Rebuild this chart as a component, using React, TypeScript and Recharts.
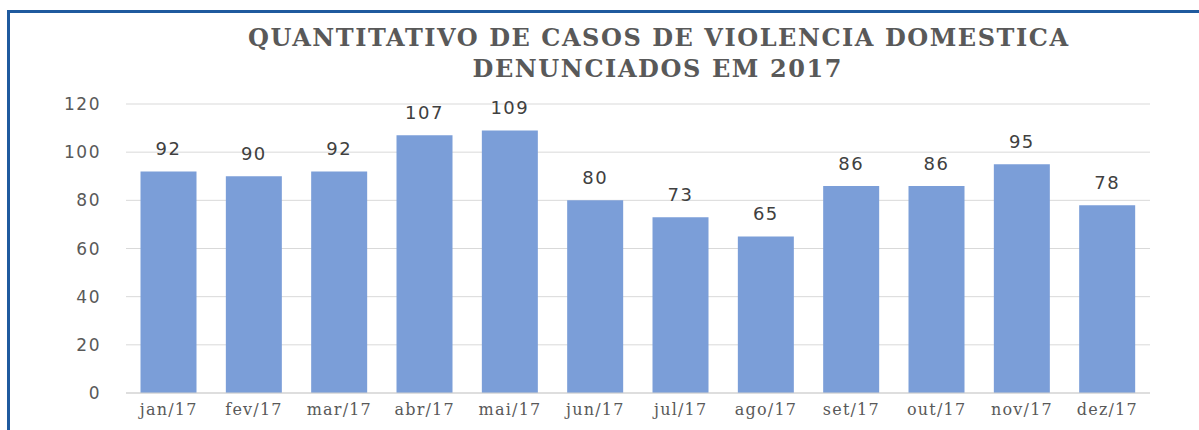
import React from 'react';
import { BarChart, Bar, XAxis, YAxis, CartesianGrid, LabelList } from 'recharts';

const months = ['jan/17', 'fev/17', 'mar/17', 'abr/17', 'mai/17', 'jun/17', 'jul/17', 'ago/17', 'set/17', 'out/17', 'nov/17', 'dez/17'];
const casos = [92, 90, 92, 107, 109, 80, 73, 65, 86, 86, 95, 78];
const yTicks = [0, 20, 40, 60, 80, 100, 120];
const titleLine1 = 'QUANTITATIVO DE CASOS DE VIOLENCIA DOMESTICA';
const titleLine2 = 'DENUNCIADOS EM 2017';

const data = months.map((m, i) => ({ month: m, value: casos[i] }));

export default function App() {
  return (
    <div style={{ position: 'absolute', left: 0, top: 0, width: 1199, height: 430, background: '#fff', overflow: 'hidden' }}>
      <div
        style={{
          position: 'absolute',
          left: 7,
          top: 10,
          width: 1300,
          height: 500,
          borderTop: '3px solid #1F5A9E',
          borderLeft: '3px solid #1F5A9E',
          boxSizing: 'border-box',
        }}
      />
      <svg width={1199} height={90} style={{ position: 'absolute', left: 0, top: 0 }}>
        <text
          x={658}
          y={46}
          textAnchor="middle"
          textLength={820}
          lengthAdjust="spacing"
          style={{ fontFamily: '"DejaVu Serif", serif', fontWeight: 'bold', fontSize: 24, fill: '#595959' }}
        >
          {titleLine1}
        </text>
        <text
          x={657}
          y={77}
          textAnchor="middle"
          textLength={369}
          lengthAdjust="spacing"
          style={{ fontFamily: '"DejaVu Serif", serif', fontWeight: 'bold', fontSize: 24, fill: '#595959' }}
        >
          {titleLine2}
        </text>
      </svg>
      <div style={{ position: 'absolute', left: 0, top: 0 }}>
        <BarChart
          width={1199}
          height={430}
          data={data}
          margin={{ top: 104, right: 49, bottom: 7, left: 66 }}
          barCategoryGap="17%"
        >
          <CartesianGrid vertical={false} stroke="#D9D9D9" />
          <XAxis
            dataKey="month"
            height={30}
            tickLine={false}
            tickSize={0}
            tickMargin={11}
            axisLine={{ stroke: '#D0D0D0' }}
            tick={{ fill: '#595959', fontSize: 16, fontFamily: '"DejaVu Serif", serif', letterSpacing: 1.2 }}
            interval={0}
          />
          <YAxis
            width={60}
            domain={[0, 120]}
            ticks={yTicks}
            tickLine={false}
            axisLine={false}
            tickSize={0}
            tickMargin={25}
            tick={{ fill: '#595959', fontSize: 17, fontFamily: '"DejaVu Sans", sans-serif', letterSpacing: 1.5 }}
          />
          <Bar dataKey="value" fill="#7B9ED8" isAnimationActive={false}>
            <LabelList
              dataKey="value"
              position="top"
              offset={16}
              style={{ fill: '#404040', fontSize: 18, fontFamily: '"DejaVu Sans", sans-serif', letterSpacing: 1.5 }}
            />
          </Bar>
        </BarChart>
      </div>
    </div>
  );
}
